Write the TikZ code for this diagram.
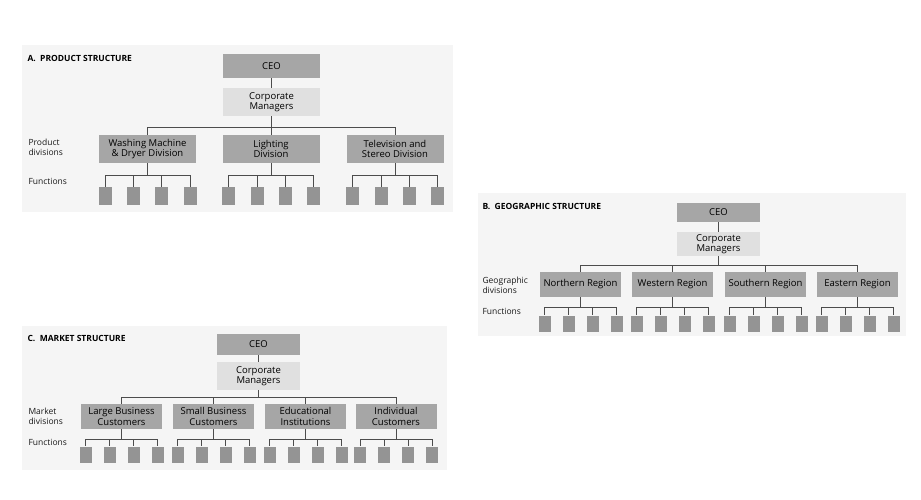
\documentclass[tikz,border=0pt]{standalone}
\usepackage{fontspec}
\setmainfont{Open Sans}
\begin{document}
\begin{tikzpicture}[x=1pt,y=-1pt,
  bg/.style={fill=black!4,draw=none},
  dark/.style={fill=black!35,draw=none,align=center,inner sep=1pt,font=\fontsize{9.5}{10.5}\selectfont,text=black},
  light/.style={fill=black!12,draw=none,align=center,inner sep=1pt,font=\fontsize{9.5}{10.5}\selectfont,text=black},
  fn/.style={fill=black!42,draw=none,minimum width=12pt,minimum height=16pt,inner sep=0pt},
  ln/.style={draw=black!70,line width=0.8pt},
  lbl/.style={anchor=west,align=left,font=\fontsize{8.5}{10}\selectfont,text=black!90},
  ttl/.style={anchor=west,font=\fontsize{8.5}{10}\bfseries\selectfont}]
\useasboundingbox (0,0) rectangle (921,499);
\fill[white] (0,0) rectangle (921,499);
% ===== A =====
\fill[bg] (22,45) rectangle (453,212);
\node[ttl] (ta) at (24,58) {A.\ \ PRODUCT STRUCTURE};
\node[dark,minimum width=97pt,minimum height=24pt] (aceo) at (271.5,66) {CEO};
\node[light,minimum width=97pt,minimum height=28pt] (acm) at (271.5,102) {Corporate\\Managers};
\node[lbl] (al1) at (25,147) {Product\\divisions};
\node[lbl] (al2) at (25,181) {Functions};
\draw[ln] (aceo) -- (acm);
\foreach \n/\c/\t in {a1/147.5/{Washing Machine\\\& Dryer Division},a2/271/{Lighting\\Division},a3/395/{Television and\\Stereo Division}}{
  \node[dark,minimum width=97pt,minimum height=28pt] (\n) at (\c,149) {\t};
  \draw[ln] (acm.south) -- (271.5,127) -| (\n.north);
  \foreach \k/\dx in {1/-42.5,2/-14,3/14,4/42.5}{
    \node[fn,minimum width=13pt,minimum height=18pt] (\n f\k) at (\c+\dx,196) {};
    \draw[ln] (\n.south) -- (\c,175) -| (\n f\k.north);
  }
}
% ===== B =====
\fill[bg] (478,193) rectangle (906,336);
\node[ttl] (tb) at (479,206) {B.\ \ GEOGRAPHIC STRUCTURE};
\node[dark,minimum width=83pt,minimum height=19pt] (bceo) at (718.5,212.5) {CEO};
\node[light,minimum width=83pt,minimum height=24pt] (bcm) at (718.5,244) {Corporate\\Managers};
\node[lbl] (bl1) at (479,285) {Geographic\\divisions};
\node[lbl] (bl2) at (479,311) {Functions};
\draw[ln] (bceo) -- (bcm);
\foreach \n/\c/\t in {b1/580.5/{Northern Region},b2/672.5/{Western Region},b3/765.5/{Southern Region},b4/857.5/{Eastern Region}}{
  \node[dark,minimum width=81pt,minimum height=25pt] (\n) at (\c,284.5) {\t};
  \draw[ln] (bcm.south) -- (718.5,265) -| (\n.north);
  \foreach \k/\dx in {1/-36,2/-12,3/12,4/36}{
    \node[fn] (\n f\k) at (\c+\dx,323.5) {};
    \draw[ln] (\n.south) -- (\c,307) -| (\n f\k.north);
  }
}
% ===== C =====
\fill[bg] (22,326) rectangle (447,470);
\node[ttl] (tc) at (24,338) {C.\ \ MARKET STRUCTURE};
\node[dark,minimum width=83pt,minimum height=21pt] (cceo) at (258.5,344.5) {CEO};
\node[light,minimum width=83pt,minimum height=28pt] (ccm) at (258.5,376) {Corporate\\Managers};
\node[lbl] (cl1) at (25,416) {Market\\divisions};
\node[lbl] (cl2) at (25,442) {Functions};
\draw[ln] (cceo) -- (ccm);
\foreach \n/\c/\t in {c1/121.5/{Large Business\\Customers},c2/213.5/{Small Business\\Customers},c3/305.5/{Educational\\Institutions},c4/396/{Individual\\Customers}}{
  \node[dark,minimum width=81pt,minimum height=25pt] (\n) at (\c,416.5) {\t};
  \draw[ln] (ccm.south) -- (258.5,397) -| (\n.north);
  \foreach \k/\dx in {1/-36,2/-12,3/12,4/36}{
    \node[fn] (\n f\k) at (\c+\dx,454.5) {};
    \draw[ln] (\n.south) -- (\c,439) -| (\n f\k.north);
  }
}
\end{tikzpicture}
\end{document}
